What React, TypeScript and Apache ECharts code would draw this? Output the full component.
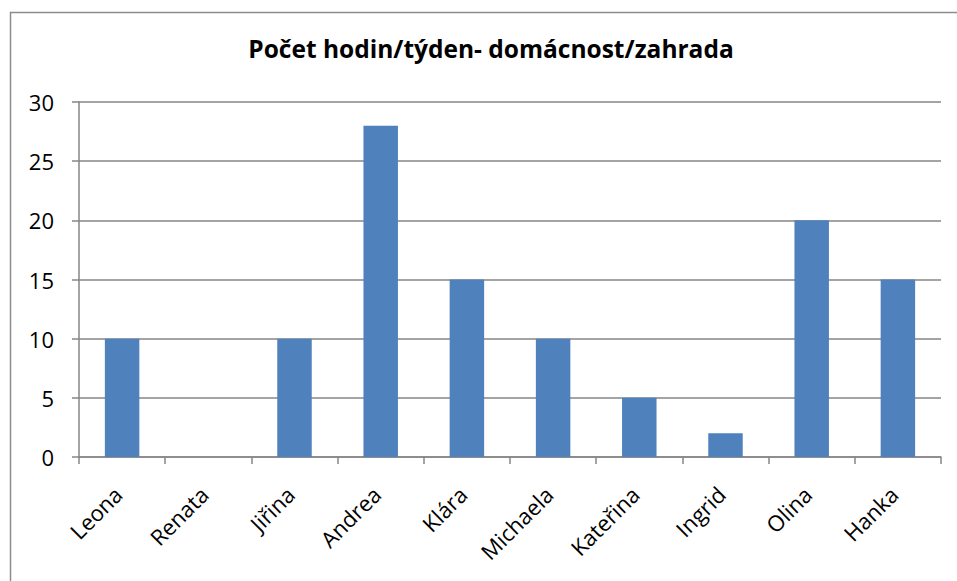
import React, { useEffect, useRef } from "react";
import * as echarts from "echarts";

const title = "Počet hodin/týden- domácnost/zahrada";
const categories = ["Leona", "Renata", "Jiřina", "Andrea", "Klára", "Michaela", "Kateřina", "Ingrid", "Olina", "Hanka"];
const hours = [10, 0, 10, 28, 15, 10, 5, 2, 20, 15];
const yMin = 0;
const yMax = 30;
const yStep = 5;

const FONT = "'Open Sans', 'Noto Sans', sans-serif";

export default function App() {
  const ref = useRef<HTMLDivElement>(null);
  useEffect(() => {
    document.body.style.margin = "0";
    if (!ref.current) return;
    const chart = echarts.init(ref.current, undefined, { renderer: "svg" });
    chart.setOption({
      animation: false,
      backgroundColor: "#ffffff",
      title: {
        text: title,
        left: 486,
        top: 31,
        textAlign: "center",
        textStyle: { fontFamily: FONT, fontWeight: "bold", fontSize: 24.5, color: "#000" },
      },
      graphic: [
        {
          type: "rect",
          shape: { x: 10.5, y: 12.5, width: 1000, height: 1000 },
          style: { fill: "none", stroke: "#8c8c8c", lineWidth: 1.5 },
          silent: true,
          z: -1,
        },
      ],
      grid: { left: 79, right: 16, top: 102, bottom: 124, containLabel: false },
      xAxis: {
        type: "category",
        data: categories,
        axisLine: { lineStyle: { color: "#868686", width: 1.5 } },
        axisTick: { show: true, length: 7, interval: 0, lineStyle: { color: "#868686", width: 1.5 } },
        axisLabel: {
          interval: 0,
          rotate: 45,
          margin: 29,
          padding: [0, 6, 0, 0],
          fontFamily: FONT,
          fontSize: 22,
          color: "#000",
        },
      },
      yAxis: {
        type: "value",
        min: yMin,
        max: yMax,
        interval: yStep,
        axisLine: { show: true, lineStyle: { color: "#868686", width: 1.5 } },
        axisTick: { show: true, length: 7, lineStyle: { color: "#868686", width: 1.5 } },
        splitLine: { show: true, lineStyle: { color: "#868686", width: 1.5 } },
        axisLabel: { margin: 25, fontFamily: FONT, fontSize: 22, color: "#000" },
      },
      series: [
        {
          type: "bar",
          data: hours,
          barWidth: "40%",
          itemStyle: { color: "#4F81BD" },
        },
      ],
    });
    return () => chart.dispose();
  }, []);
  return <div ref={ref} style={{ width: 957, height: 581 }} />;
}
